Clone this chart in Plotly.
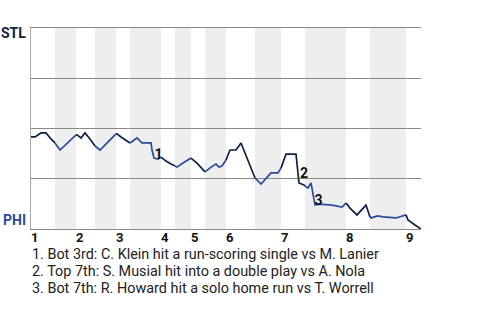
import plotly.graph_objects as go

# Win probability (STL %) by event index
xs = [0, 0.8, 2, 3, 4, 4.8, 5.8, 8.8, 9, 9.2, 10, 10.8, 11.8, 12.8, 13.8, 17, 17.2, 18, 18.8, 19.8,
      21.2, 22.2, 24, 24.2, 24.6, 25.4, 26, 27, 28, 28.8, 29.2, 30.4, 31.8, 32, 33.2, 34.8, 36, 37,
      37.6, 38.2, 39, 39.8, 41, 42, 44.8, 46, 48, 49.4, 50, 51, 53, 53.6, 54.6, 54.8, 55.4, 56, 56.8,
      57.8, 60.2, 62.2, 63, 63.8, 65.2, 67, 67.8, 68, 69.4, 70.4, 73, 74.8, 75, 75.4, 76.8, 78]
ps = [45.8, 45.8, 47.8, 47.8, 44.8, 42.8, 39.3, 46.3, 46.8, 46.8, 45.3, 47.8, 44.8, 41.3, 39.3, 47.3,
      47.3, 45.8, 44.3, 42.8, 45.3, 42.8, 42.8, 39.3, 35.3, 34.8, 35.8, 33.8, 32.3, 31.3, 30.8, 32.8,
      35.3, 35.3, 32.8, 28.4, 30.8, 32.3, 30.8, 31.3, 34.3, 39.3, 39.3, 42.8, 25.4, 22.4, 27.9, 27.9,
      30.3, 37.3, 37.3, 22.9, 21.9, 21.4, 20.4, 22.9, 11.9, 12.4, 11.9, 10.9, 12.9, 10.4, 7.0, 11.9,
      6.0, 5.5, 6.5, 6.0, 5.5, 7.0, 7.0, 4.5, 2.0, 0]

# half-inning boundaries (event index)
half_bounds = [0, 4.8, 9, 12.8, 17, 19.8, 26, 28.8, 32, 34.8, 39, 44.8, 50, 54.8, 63, 67.8, 75, 78]
inning_labels = ["1", "2", "3", "4", "5", "6", "7", "8", "9"]

events_x = [25.5, 54.6, 57.5]
events_p = [36.8, 27.1, 13.9]
events_lbl = ["1", "2", "3"]
event_notes = [
    "1. Bot 3rd: C. Klein hit a run-scoring single vs M. Lanier",
    "2. Top 7th: S. Musial hit into a double play vs A. Nola",
    "3. Bot 7th: R. Howard hit a solo home run vs T. Worrell",
]
teams = ["STL", "PHI"]
team_colors = ["#0c2344", "#2b4c9c"]

fig = go.Figure()

# shaded bottom halves
shapes = []
for i in range(1, len(half_bounds) - 1, 2):
    shapes.append(dict(type="rect", xref="x", yref="paper", x0=half_bounds[i], x1=half_bounds[i + 1],
                       y0=0, y1=1, fillcolor="#eeeeee", line_width=0, layer="below"))

# line segments per half inning
for i in range(len(half_bounds) - 1):
    a, b = half_bounds[i], half_bounds[i + 1]
    seg = [(x, p) for x, p in zip(xs, ps) if a - 1e-9 <= x <= b + 1e-9]
    if len(seg) < 2:
        continue
    fig.add_trace(go.Scatter(x=[s[0] for s in seg], y=[s[1] for s in seg], mode="lines",
                             line=dict(color=team_colors[i % 2], width=1.7),
                             hoverinfo="skip", showlegend=False))

fig.add_trace(go.Scatter(x=events_x, y=events_p, mode="text", text=events_lbl,
                         textfont=dict(family="Roboto", size=14, color="#111111", weight="bold"),
                         hoverinfo="skip", showlegend=False))

annotations = []
annotations.append(dict(text="<b>%s</b>" % teams[0], xref="paper", yref="y", x=-3 / 390, y=97.5,
                        xanchor="right", yanchor="middle", showarrow=False,
                        font=dict(family="Roboto", size=14, color=team_colors[0])))
annotations.append(dict(text="<b>%s</b>" % teams[1], xref="paper", yref="y", x=-3 / 390, y=4.5,
                        xanchor="right", yanchor="middle", showarrow=False,
                        font=dict(family="Roboto", size=14, color=team_colors[1])))

inning_starts = [half_bounds[j] for j in range(0, len(half_bounds) - 1, 2)]
for xv, lbl in zip(inning_starts, inning_labels):
    annotations.append(dict(text="<b>%s</b>" % lbl, xref="x", yref="paper", x=xv, y=0,
                            xanchor="left", yanchor="middle", yshift=-8.5, xshift=-2, showarrow=False,
                            font=dict(family="Roboto", size=13, color="#111111")))

for k, note in enumerate(event_notes):
    annotations.append(dict(text=note, xref="paper", yref="paper", x=0, y=0,
                            xanchor="left", yanchor="middle", yshift=-(25 + 17 * k), xshift=-1.5,
                            showarrow=False,
                            font=dict(family="Roboto", size=14.4, color="#222222")))

fig.update_layout(
    width=480, height=320,
    margin=dict(l=31, r=59, t=28, b=91),
    paper_bgcolor="white", plot_bgcolor="rgba(0,0,0,0)",
    shapes=shapes, annotations=annotations,
    xaxis=dict(range=[0, 78], showticklabels=False,
               showgrid=False, zeroline=False, showline=True, mirror=True,
               linecolor="#888888", linewidth=1, ticks=""),
    yaxis=dict(range=[0, 100], tickvals=[0, 25, 50, 75, 100], showticklabels=False,
               showgrid=True, gridcolor="#888888", gridwidth=1, zeroline=False,
               showline=True, linecolor="#aaaaaa", linewidth=1, ticks=""),
)

fig.write_html("out.html")
